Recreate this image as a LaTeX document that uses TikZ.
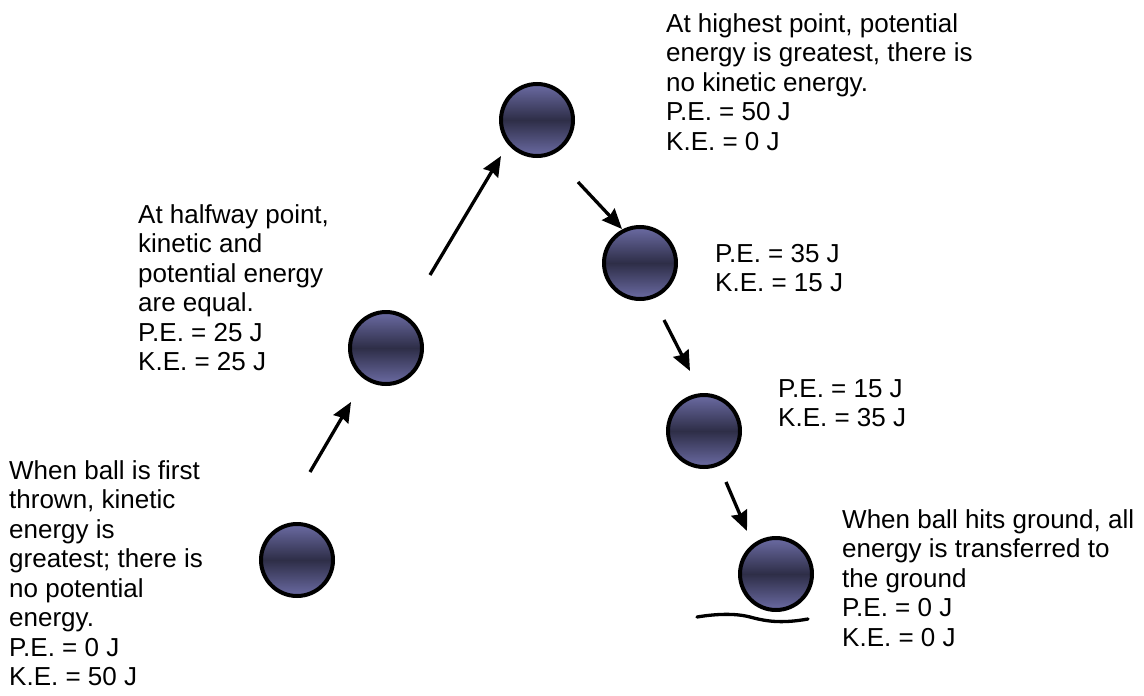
\documentclass[tikz,border=0pt]{standalone}
\usepackage{fontspec}
\setmainfont{Liberation Sans}
\usetikzlibrary{arrows.meta,positioning}
\definecolor{ballhi}{rgb}{0.42, 0.42, 0.64}
\definecolor{balllo}{rgb}{0.18, 0.18, 0.28}
\tikzstyle{ball}=[circle, draw=black, line width=4pt, minimum size=72pt, inner sep=0pt, top color=ballhi, bottom color=ballhi, middle color=balllo]
\tikzstyle{note}=[anchor=north west, align=left, inner sep=0pt, font=\fontsize{26pt}{29.5pt}\selectfont]
\tikzstyle{move}=[line width=3.3pt, -{Stealth[length=20pt, width=17pt, inset=2pt]}]
\tikzstyle{ground}=[line width=3.3pt, line cap=round]

\begin{document}
\begin{tikzpicture}[x=1pt, y=-1pt]
		\useasboundingbox (0, 0) rectangle (1144, 696);
		
		\node[ball] at (297, 560) (b1) {};
		\node[ball] at (386, 348) (b2) {};
		\node[ball] at (537, 120) (b3) {};
		\node[ball] at (640, 263) (b4) {};
		\node[ball] at (704, 431) (b5) {};
		\node[ball] at (776, 574) (b6) {};
		
		\node[note] at (9, 460) (t1) {When ball is first\\thrown, kinetic\\energy is\\greatest; there is\\no potential\\energy.\\P.E. = 0 J\\K.E. = 50 J};
		\node[note] at (138, 204) (t2) {At halfway point,\\kinetic and\\potential energy\\are equal.\\P.E. = 25 J\\K.E. = 25 J};
		\node[note] at (666, 13) (t3) {At highest point, potential\\energy is greatest, there is\\no kinetic energy.\\P.E. = 50 J\\K.E. = 0 J};
		\node[note] at (715, 244) (t4) {P.E. = 35 J\\K.E. = 15 J};
		\node[note] at (778, 379) (t5) {P.E. = 15 J\\K.E. = 35 J};
		\node[note] at (842, 509) (t6) {When ball hits ground, all\\energy is transferred to\\the ground\\P.E. = 0 J\\K.E. = 0 J};
		
		\coordinate (a1s) at (310, 472);
		\coordinate (a1e) at (351, 402);
		\coordinate (a2s) at (430, 275);
		\coordinate (a2e) at (501, 156);
		\coordinate (a3s) at (578, 182);
		\coordinate (a3e) at (622, 229);
		\coordinate (a4s) at (664, 320);
		\coordinate (a4e) at (690, 371);
		\coordinate (a5s) at (726, 482);
		\coordinate (a5e) at (747, 531);
		
		\draw[move] (a1s) -- (a1e);
		\draw[move] (a2s) -- (a2e);
		\draw[move] (a3s) -- (a3e);
		\draw[move] (a4s) -- (a4e);
		\draw[move] (a5s) -- (a5e);
		
		\draw[ground] (697, 617) .. controls (715, 614) and (735, 613) .. (750, 617) .. controls (765, 621) and (780, 624) .. (808, 619);
		
		\end{tikzpicture}
\end{document}
